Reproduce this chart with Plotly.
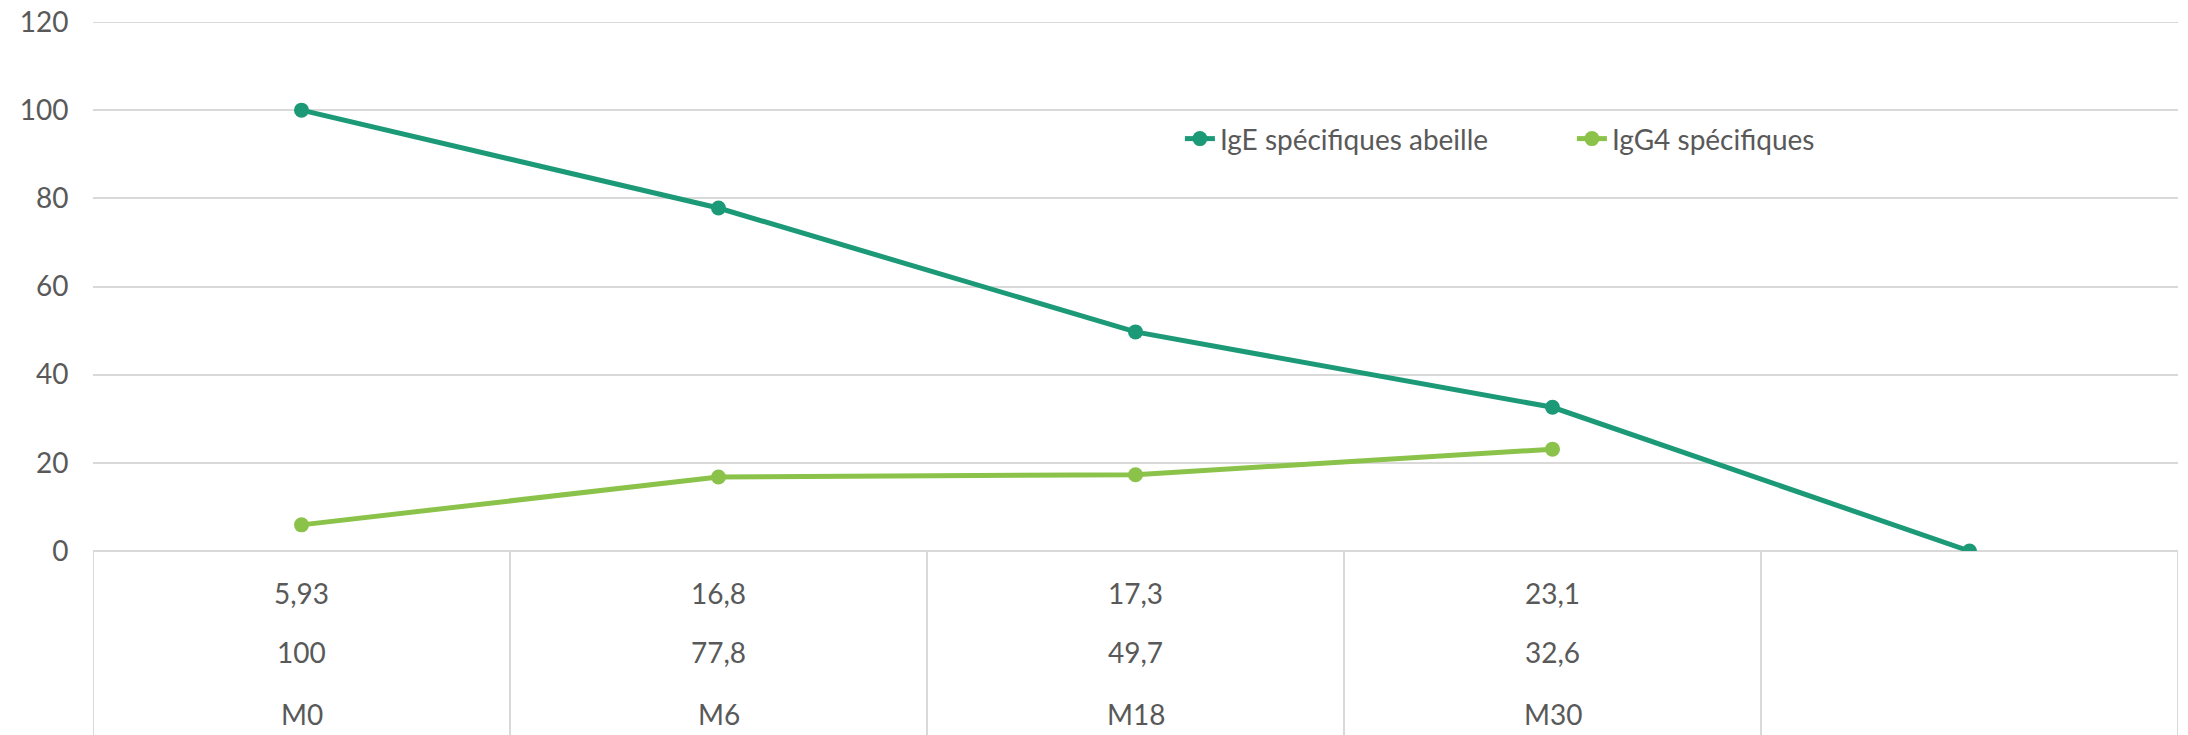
import plotly.graph_objects as go

categories = ["M0", "M6", "M18", "M30", ""]
ige_values = [100, 77.8, 49.7, 32.6, 0]
igg4_values = [5.93, 16.8, 17.3, 23.1, None]
ige_labels = ["100", "77,8", "49,7", "32,6", ""]
igg4_labels = ["5,93", "16,8", "17,3", "23,1", ""]
y_ticks = [0, 20, 40, 60, 80, 100, 120]

IGE_COLOR = "#1c9a77"
IGG4_COLOR = "#8bc34a"
GRID = "#d9d9d9"
TEXT = "#595959"
FONT = "Lato, 'Open Sans', sans-serif"
FS = 28

fig = go.Figure()
fig.add_trace(go.Scatter(
    x=categories, y=ige_values, name="IgE spécifiques abeille",
    mode="lines+markers",
    line=dict(color=IGE_COLOR, width=5),
    marker=dict(color=IGE_COLOR, size=15),
))
fig.add_trace(go.Scatter(
    x=categories, y=igg4_values, name="IgG4 spécifiques",
    mode="lines+markers",
    line=dict(color=IGG4_COLOR, width=5),
    marker=dict(color=IGG4_COLOR, size=15),
))

# Table-style dividers below the axis at category boundaries
n = len(categories)
for i in range(n + 1):
    fig.add_shape(type="line", xref="x", yref="paper",
                  x0=i - 0.5, x1=i - 0.5, y0=0, y1=-1,
                  line=dict(color=GRID, width=2), layer="below")
# top gridline (at the top of the value range)
fig.add_shape(type="line", xref="paper", yref="y",
              x0=0, x1=1, y0=y_ticks[-1], y1=y_ticks[-1],
              line=dict(color=GRID, width=2), layer="below")

# Table rows (data table under the chart)
rows = [igg4_labels, ige_labels, categories]
row_shift = [-42, -101, -163]
annotations = []
for r, labels in enumerate(rows):
    for i, t in enumerate(labels):
        if t == "":
            continue
        annotations.append(dict(
            x=i, y=0, xref="x", yref="y", text=t, showarrow=False,
            yshift=row_shift[r], yanchor="middle", xanchor="center",
            font=dict(family=FONT, size=FS, color=TEXT),
        ))

fig.update_layout(
    width=2188, height=735,
    margin=dict(l=85, r=18, t=14, b=192, autoexpand=False),
    paper_bgcolor="white", plot_bgcolor="white",
    font=dict(family=FONT, size=FS, color=TEXT),
    annotations=annotations,
    showlegend=True,
    legend=dict(
        orientation="h", x=0.5213, y=0.779, xanchor="left", yanchor="middle",
        xref="paper", yref="paper",
        font=dict(family=FONT, size=FS, color=TEXT),
        bgcolor="rgba(0,0,0,0)", entrywidth=347,
    ),
    xaxis=dict(
        type="category", range=[-0.5, n - 0.5],
        showgrid=False, zeroline=False, showline=False,
        showticklabels=False, ticks="", automargin=False,
    ),
    yaxis=dict(
        range=[0, 120], tickvals=y_ticks,
        showgrid=True, gridcolor=GRID, gridwidth=2,
        zeroline=True, zerolinecolor=GRID, zerolinewidth=2,
        showline=False, ticks="outside", ticklen=18, tickcolor="rgba(0,0,0,0)",
        tickfont=dict(family=FONT, size=FS, color=TEXT),
        ticklabeloverflow="allow", automargin=False,
    ),
)

fig.write_html("out.html")
